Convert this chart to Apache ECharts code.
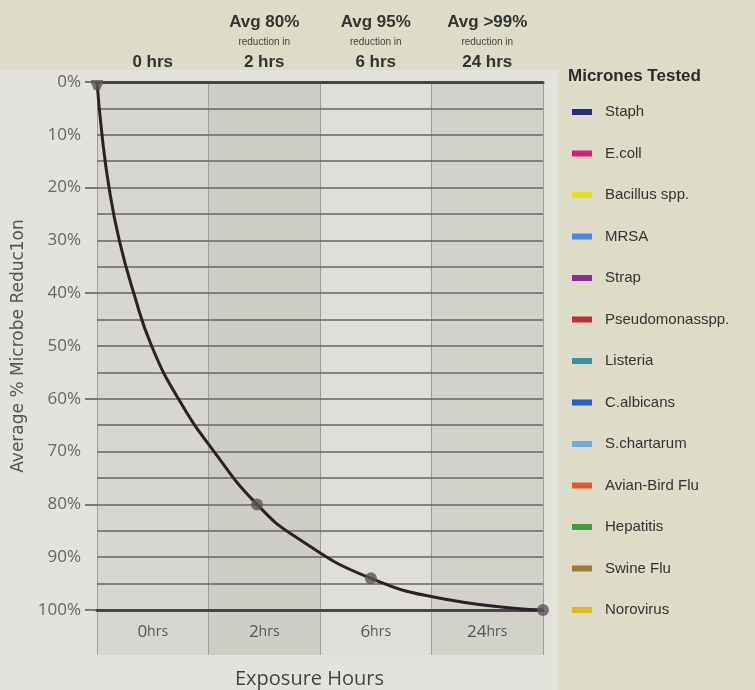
<!DOCTYPE html>
<html><head><meta charset="utf-8">
<script src="https://cdn.jsdelivr.net/npm/echarts@6/dist/echarts.min.js"></script>
<style>html,body{margin:0;padding:0;background:#dddcc8;}#c{width:755px;height:690px;}</style>
</head><body><div id="c"></div>
<script>
// Column categories
const bottomLabels = ['0', '2', '6', '24'];
const topHeads = ['', 'Avg 80%', 'Avg 95%', 'Avg >99%'];
const topHours = ['0 hrs', '2 hrs', '6 hrs', '24 hrs'];
// Curve (x in column units 0..4, y = % reduction)
const curveX = [0, 0.045, 0.108, 0.2, 0.33, 0.49, 0.73, 1.05, 1.435, 1.80, 2.457, 3.166, 4];
const curveY = [0, 10, 20, 30, 40, 50, 60, 70, 80, 86.4, 94, 98.1, 100];
// Marked points
const pointX = [0, 1.435, 2.457, 4];
const pointY = [0, 80, 94, 100];
// Legend
const microbes = ['Staph', 'E.coll', 'Bacillus spp.', 'MRSA', 'Strap', 'Pseudomonasspp.', 'Listeria', 'C.albicans', 'S.chartarum', 'Avian-Bird Flu', 'Hepatitis', 'Swine Flu', 'Norovirus'];
const microbeColors = ['#2b2a80', '#d1207a', '#e6df1c', '#4a8bd8', '#8b2c9b', '#c72b3b', '#3a90a0', '#2b5bc8', '#6aaee0', '#e05a2a', '#3aa03c', '#9a7a3a', '#e0b820'];

const colColors = ['#d7d6d0', '#cfcec6', '#dfded9', '#d3d2ca'];

const chart = echarts.init(document.getElementById('c'));
const legendSeries = microbes.map((m, i) => ({
  name: m, type: 'line', data: [], xAxisIndex: 0, yAxisIndex: 0,
  itemStyle: { color: microbeColors[i] }, lineStyle: { color: microbeColors[i] }
}));

chart.setOption({
  backgroundColor: '#dddcc8',
  animation: false,
  graphic: [{ type: 'rect', left: 0, top: 70, shape: { width: 558, height: 620 }, style: { fill: '#e3e2dc' }, z: -10 }],
  title: [
    { text: 'Micrones Tested', left: 563, top: 63, textStyle: { fontSize: 17, fontWeight: 'bold', color: '#2a2a2a', fontFamily: 'Liberation Sans' } },
    { text: 'Exposure Hours', left: 230, top: 664, textStyle: { fontSize: 20, fontWeight: 'normal', color: '#444', fontFamily: 'Open Sans' } }
  ],
  legend: {
    data: microbes, orient: 'vertical', left: 567, top: 99,
    icon: 'rect', itemWidth: 20, itemHeight: 6, itemGap: 25.5,
    textStyle: { fontSize: 15, color: '#333', lineHeight: 16, fontFamily: 'Liberation Sans', padding: [0, 0, 0, 8] },
    selectedMode: false
  },
  grid: [
    { left: 97, top: 82, width: 446, height: 528 },
    { left: 97, top: 610, width: 446, height: 45 }
  ],
  xAxis: [
    { type: 'value', gridIndex: 0, min: 0, max: 4, interval: 1, position: 'bottom', z: 0,
      axisLine: { show: false },
      axisTick: { show: false }, axisLabel: { show: false },
      splitLine: { show: true, lineStyle: { color: '#a09e98', width: 1 } },
      splitArea: { show: true, areaStyle: { color: colColors } } },
    { type: 'category', gridIndex: 1, data: bottomLabels, position: 'top', boundaryGap: true, z: 0,
      axisLine: { show: false }, axisTick: { show: false },
      axisLabel: { inside: true, margin: 14, formatter: v => '{n|' + v + '}{h|hrs}',
        rich: { n: { fontSize: 17, color: '#555', fontFamily: 'Open Sans' }, h: { fontSize: 14, color: '#555', fontFamily: 'Open Sans' } } },
      splitLine: { show: true, lineStyle: { color: '#a09e98', width: 1 } },
      splitArea: { show: true, areaStyle: { color: colColors } } },
    { type: 'category', gridIndex: 0, data: topHours, position: 'top', boundaryGap: true, z: 4,
      axisLine: { show: true, lineStyle: { color: '#4a4548', width: 3 } }, axisTick: { show: false },
      axisLabel: { margin: 8, interval: 0,
        formatter: (v, i) => topHeads[i] ? '{b|' + topHeads[i] + '}\n{s|reduction in}\n{b|' + v + '}' : '{b|' + v + '}',
        rich: { b: { fontSize: 17, fontWeight: 'bold', color: '#333', lineHeight: 23, fontFamily: 'Liberation Sans' },
                s: { fontSize: 10, color: '#444', lineHeight: 17, fontFamily: 'Liberation Sans' } } },
      splitLine: { show: false } },
    { type: 'value', gridIndex: 0, min: 0, max: 4, position: 'bottom', z: 4,
      axisLine: { show: true, lineStyle: { color: '#4a4548', width: 3 } },
      axisTick: { show: false }, axisLabel: { show: false }, splitLine: { show: false }, splitArea: { show: false } }
  ],
  yAxis: [
    { type: 'value', gridIndex: 0, min: 0, max: 100, interval: 5, inverse: true, position: 'left', z: 2,
      name: 'Average % Microbe Reduc1on', nameLocation: 'middle', nameGap: 70,
      nameTextStyle: { fontSize: 17, color: '#555', fontFamily: 'DejaVu Sans' },
      axisLine: { show: false }, axisTick: { show: false },
      axisLabel: { margin: 16, fontSize: 17, color: '#666', fontFamily: 'Open Sans', formatter: v => (v % 10 === 0 ? v + '%' : '') },
      splitLine: { show: true, lineStyle: { color: '#6a6566', width: 1.5 } } },
    { type: 'value', gridIndex: 0, min: 0, max: 100, interval: 20, inverse: true, position: 'left', z: 2,
      axisLine: { show: false }, axisLabel: { show: false }, splitLine: { show: false },
      axisTick: { show: true, length: 12, lineStyle: { color: '#5a5658', width: 1.5 } } },
    { type: 'value', gridIndex: 1, show: false, min: 0, max: 1, splitLine: { show: false } }
  ],
  series: [
    { type: 'line', xAxisIndex: 0, yAxisIndex: 0, smooth: 0.5, showSymbol: false,
      data: curveX.map((x, i) => [x, curveY[i]]),
      lineStyle: { color: '#2a2228', width: 3 }, z: 5 },
    { type: 'scatter', xAxisIndex: 0, yAxisIndex: 0, symbolSize: 12,
      data: pointX.map((x, i) => i === 0
        ? { value: [x, pointY[i]], symbol: 'path://M0,0 L12,0 L12,3 L9,10 L3,10 L0,3 Z', symbolSize: [12, 10], symbolOffset: [0, 3] }
        : { value: [x, pointY[i]] }),
      itemStyle: { color: '#5a5658' }, z: 6 },
    ...legendSeries
  ]
});
</script></body></html>
